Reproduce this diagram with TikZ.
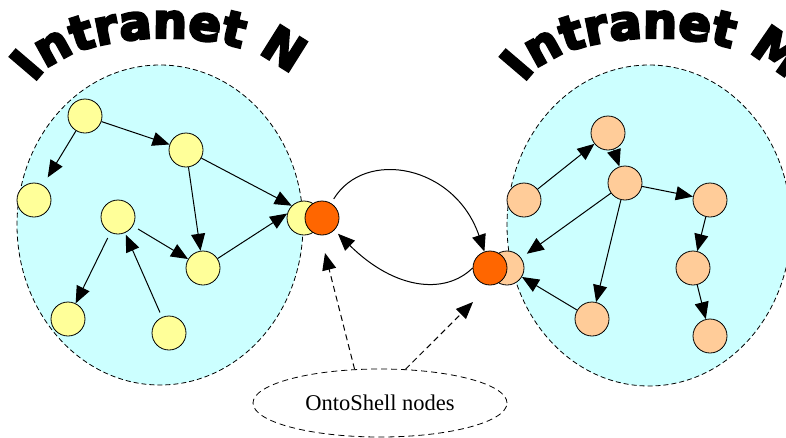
\documentclass[tikz,border=0pt]{standalone}
\usepackage{fontspec}
\setmainfont{Liberation Serif}
\newfontfamily\titlefont{DejaVu Sans}[UprightFont={* Bold},FakeBold=5]
\usetikzlibrary{arrows.meta,decorations.text,shapes.geometric}
\definecolor{netfill}{HTML}{CCFFFF}
\definecolor{peerN}{HTML}{FFFF99}
\definecolor{peerM}{HTML}{FFCC99}
\definecolor{shellfill}{HTML}{FF6600}

\begin{document}
\begin{tikzpicture}[x=1pt,y=-1pt,
  peer/.style={circle,draw=black,line width=0.8pt,minimum size=34pt,inner sep=0pt},
  npeer/.style={peer,fill=peerN},
  mpeer/.style={peer,fill=peerM},
  shellpeer/.style={peer,fill=shellfill},
  net/.style={ellipse,draw=black,fill=netfill,line width=0.8pt,dash pattern=on 5pt off 3pt,inner sep=0pt},
  link/.style={draw=black,line width=1pt,-{Triangle[length=17pt,width=14pt]}},
  hint/.style={link,dash pattern=on 6pt off 4pt},
  title/.style={decorate,decoration={text along path,text align=left,
      text={|\titlefont\fontsize{48}{48}\selectfont|#1}}}
]
\fill[white] (0,0) rectangle (786,437);
\useasboundingbox (0,0) rectangle (786,437);

% the two intranets
\node[net,minimum width=286pt,minimum height=320pt] (netN) at (160,225) {};
\node[net,minimum width=284pt,minimum height=321pt] (netM) at (649,225.5) {};

% arched titles, set along the upper half of a flat ellipse
\path[title=Intranet N] (165,96.5) ++(-167:134 and 58.5)
  arc[start angle=-167,end angle=-5,x radius=134,y radius=58.5];
\path[title=Intranet M] (655,96.5) ++(-167:134 and 58.5)
  arc[start angle=-167,end angle=-5,x radius=134,y radius=58.5];

% peers of intranet N
\node[npeer] (A) at (85,116) {};
\node[npeer] (B) at (34,200) {};
\node[npeer] (C) at (186,150) {};
\node[npeer] (D) at (118,217) {};
\node[npeer] (E) at (203,268) {};
\node[npeer] (F) at (68,319) {};
\node[npeer] (G) at (169,333) {};
\node[npeer] (H) at (304,218) {};
\node[shellpeer] (oN) at (322,218) {};

% peers of intranet M
\node[mpeer] (P1) at (608,133) {};
\node[mpeer] (P2) at (625,183) {};
\node[mpeer] (P3) at (524,200) {};
\node[mpeer] (P4) at (710,200) {};
\node[mpeer] (P5) at (693,268) {};
\node[mpeer] (P6) at (710,336) {};
\node[mpeer] (P7) at (592,319) {};
\node[mpeer] (P8) at (507,268) {};
\node[shellpeer] (oM) at (490,268) {};

% links inside intranet N
\draw[link] (A) -- (C);
\draw[link,shorten >=9pt] (A) -- (B);
\draw[link] (C) -- (H.135);
\draw[link] (C) -- (E);
\draw[link,shorten <=6pt] (D) -- (E);
\draw[link,shorten <=6pt] (D) -- (F);
\draw[link,shorten <=5pt,shorten >=2pt] (G) -- (D);
\draw[link] (E) -- (H.165);

% links inside intranet M
\draw[link] (P3) -- (P1);
\draw[link] (P1) -- (P2);
\draw[link] (P2) -- (P4);
\draw[link,shorten >=7pt] (P2) -- (P8);
\draw[link] (P2) -- (P7);
\draw[link] (P7) -- (P8);
\draw[link] (P4) -- (P5);
\draw[link] (P5) -- (P6);

% links between the shell nodes
\draw[link,shorten <=5pt] (oN) .. controls (365,148) and (455,165) .. (oM);
\draw[link,shorten >=5pt] (oM.west) .. controls (445,295) and (395,290) .. (oN);

% label for the shell nodes
\node[ellipse,draw=black,line width=0.8pt,dash pattern=on 6pt off 4pt,
      minimum width=254pt,minimum height=68pt,inner sep=0pt,
      font=\fontsize{22.5}{27}\selectfont] (onto) at (380,403) {OntoShell nodes};
\coordinate (tipN) at (325,253);
\coordinate (tipM) at (473,302);
\draw[hint] (onto.127) -- (tipN);
\draw[hint] (onto.53) -- (tipM);
\end{tikzpicture}
\end{document}
